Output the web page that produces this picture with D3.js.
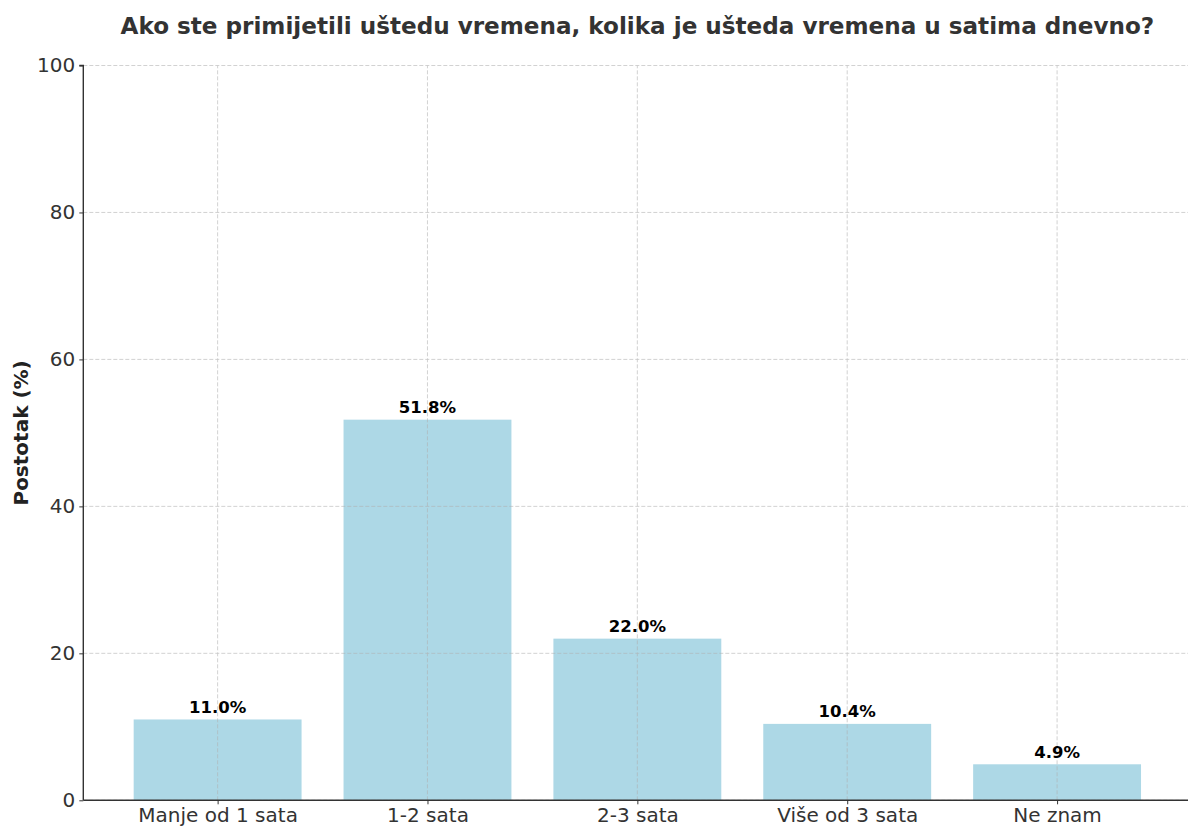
<!DOCTYPE html>
<html><head><meta charset="utf-8">
<script src="https://cdn.jsdelivr.net/npm/d3@7"></script>
<style>body{margin:0;background:#fff}svg{display:block}</style>
</head><body>
<script>
const categories = ["Manje od 1 sata", "1-2 sata", "2-3 sata", "Više od 3 sata", "Ne znam"];
const values = [11.0, 51.8, 22.0, 10.4, 4.9];
const yTicks = [0, 20, 40, 60, 80, 100];
const title = "Ako ste primijetili uštedu vremena, kolika je ušteda vremena u satima dnevno?";
const yLabel = "Postotak (%)";

const W = 1188, H = 826;
const svg = d3.select("body").append("svg").attr("width", W).attr("height", H);
const font = "DejaVu Sans, sans-serif";

const x = d3.scaleLinear().domain([-0.64, categories.length - 1 + 0.64]).range([83.3, 1191.4]);
const y = d3.scaleLinear().domain([0, 100]).range([800.3, 65.5]);
const bw = x(0.8) - x(0);

// bars
svg.append("g").selectAll("rect").data(values).join("rect")
  .attr("x", (d, i) => x(i) - bw / 2)
  .attr("y", d => y(d))
  .attr("width", bw)
  .attr("height", d => y(0) - y(d))
  .attr("fill", "#ADD8E6");

// grid (drawn above bars)
const grid = svg.append("g").attr("stroke", "#b0b0b0").attr("stroke-width", 0.8)
  .attr("stroke-dasharray", "4,2").attr("opacity", 0.7);
grid.selectAll("line.h").data(yTicks).join("line").attr("class", "h")
  .attr("x1", x.range()[0]).attr("x2", x.range()[1])
  .attr("y1", d => y(d)).attr("y2", d => y(d));
grid.selectAll("line.v").data(categories).join("line").attr("class", "v")
  .attr("x1", (d, i) => x(i)).attr("x2", (d, i) => x(i))
  .attr("y1", y(0)).attr("y2", y(100));

// axes
const yAxis = d3.axisLeft(y).tickValues(yTicks).tickSize(4).tickPadding(4);
const gy = svg.append("g").attr("transform", `translate(${x.range()[0]},0)`).call(yAxis);
gy.select(".domain").attr("stroke", "#333").attr("stroke-width", 1.4).attr("d", `M-4,${y(100)}H0V${y(0)}`);
gy.selectAll(".tick line").attr("stroke", "#333");
gy.selectAll(".tick text").attr("font-family", font).attr("font-size", 20).attr("fill", "#333");

const xAxis = d3.axisBottom(x).tickValues(d3.range(categories.length)).tickFormat(i => categories[i]).tickSize(4).tickPadding(4);
const gx = svg.append("g").attr("transform", `translate(0,${y(0)})`).call(xAxis);
gx.select(".domain").attr("stroke", "#333").attr("stroke-width", 1.4).attr("d", `M${x.range()[0]},0H${x.range()[1]}`);
gx.selectAll(".tick line").attr("stroke", "#333");
gx.selectAll(".tick text").attr("font-family", font).attr("font-size", 20).attr("fill", "#333");

// value labels
svg.append("g").selectAll("text").data(values).join("text")
  .attr("x", (d, i) => x(i)).attr("y", d => y(d) - 6.5)
  .attr("text-anchor", "middle").attr("font-family", font).attr("font-weight", "bold")
  .attr("font-size", 16.5).attr("fill", "#000")
  .text(d => d.toFixed(1) + "%");

// title
svg.append("text").attr("x", (x.range()[0] + x.range()[1]) / 2).attr("y", 34)
  .attr("text-anchor", "middle").attr("font-family", font).attr("font-weight", "bold")
  .attr("font-size", 23.1).attr("fill", "#333").text(title);

// y label
svg.append("text").attr("transform", `translate(28,${(y(0) + y(100)) / 2}) rotate(-90)`)
  .attr("text-anchor", "middle").attr("font-family", font).attr("font-weight", "bold")
  .attr("font-size", 20).attr("fill", "#222").text(yLabel);
</script>
</body></html>
